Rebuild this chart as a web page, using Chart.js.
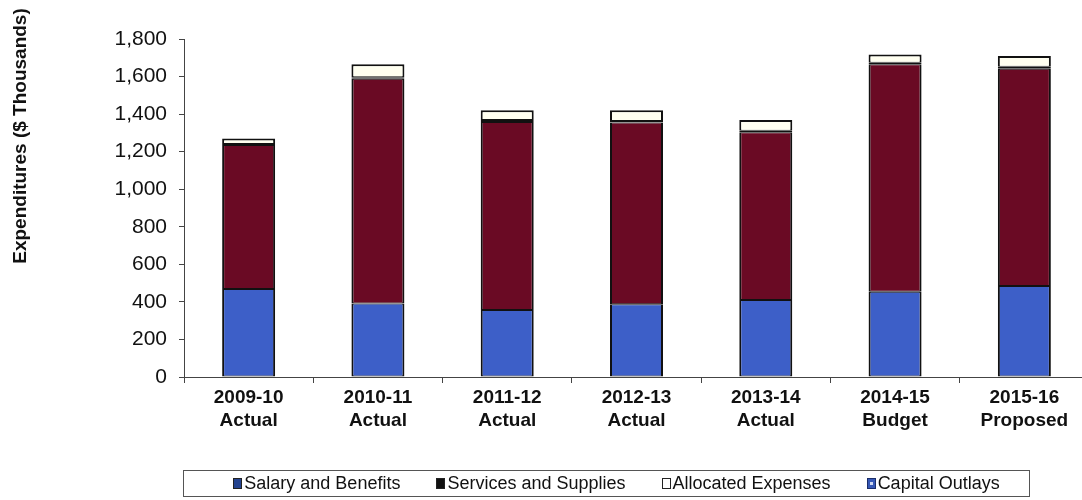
<!DOCTYPE html>
<html>
<head>
<meta charset="utf-8">
<script src="https://cdn.jsdelivr.net/npm/chart.js@4.4.1/dist/chart.umd.min.js"></script>
<style>
  html, body { margin: 0; padding: 0; background: #fff; overflow: hidden; width: 1082px; height: 500px; }
  #wrap { position: absolute; left: 0; top: 0; width: 1095px; height: 500px; }
  #legend { position: absolute; left: 183px; top: 470px; width: 847px; height: 27px; border: 1px solid #555;
    display: flex; align-items: center; justify-content: center; gap: 36px; padding-left: 20px;
    font-family: "Liberation Sans", Arial, sans-serif; font-size: 18px; color: #111; box-sizing: border-box; }
  .li { display: flex; align-items: center; white-space: nowrap; }
  .sw { width: 9px; height: 11px; margin-right: 2px; box-sizing: border-box; border: 1px solid #222; }
</style>
</head>
<body>
<div id="wrap"><canvas id="c" width="1095" height="500"></canvas></div>
<div id="legend"></div>
<script>
const categories = [["2009-10","Actual"],["2010-11","Actual"],["2011-12","Actual"],["2012-13","Actual"],["2013-14","Actual"],["2014-15","Budget"],["2015-16","Proposed"]];
const salaryBenefits = [468, 392, 357, 387, 410, 454, 485];
const servicesSupplies = [768, 1196, 1001, 968, 894, 1212, 1157];
const capitalOutlays = [5, 8, 10, 8, 8, 8, 10];
const allocatedExpenses = [29, 69, 52, 57, 56, 44, 57];
const seriesNames = ["Salary and Benefits", "Services and Supplies", "Allocated Expenses", "Capital Outlays"];
const yTicks = [0, 200, 400, 600, 800, 1000, 1200, 1400, 1600, 1800];

const legendColors = ["#24438f", "#111111", "#ffffff", "#3557b5"];
const lg = document.getElementById('legend');
seriesNames.forEach((n, i) => {
  const d = document.createElement('div'); d.className = 'li';
  const s = document.createElement('span'); s.className = 'sw'; s.style.background = legendColors[i];
  if (i === 3) { s.style.border = '1px solid #1a2d6a'; s.style.backgroundImage = 'linear-gradient(#cfd8f0,#cfd8f0)'; s.style.backgroundSize = '3px 3px'; s.style.backgroundRepeat = 'no-repeat'; s.style.backgroundPosition = 'center'; }
  const t = document.createElement('span'); t.textContent = n;
  d.appendChild(s); d.appendChild(t); lg.appendChild(d);
});

const yTitlePlugin = {
  id: 'yTitle',
  afterDraw(chart) {
    const ctx = chart.ctx;
    ctx.save();
    ctx.translate(21, 136);
    ctx.rotate(-Math.PI / 2);
    ctx.font = 'bold 19px "Liberation Sans", Arial, sans-serif';
    ctx.fillStyle = '#111';
    ctx.textAlign = 'center';
    ctx.textBaseline = 'middle';
    ctx.fillText('Expenditures ($ Thousands)', 0, 0);
    ctx.restore();
  }
};

const common = { borderColor: '#111', borderWidth: { top: 1, bottom: 1, left: 2, right: 2 }, borderSkipped: false, inflateAmount: 0, barPercentage: 0.41, categoryPercentage: 1.0 };

new Chart(document.getElementById('c'), {
  type: 'bar',
  data: {
    labels: categories,
    datasets: [
      Object.assign({ label: seriesNames[0], data: salaryBenefits, backgroundColor: '#3d5fc8' }, common),
      Object.assign({ label: seriesNames[1], data: servicesSupplies, backgroundColor: '#6a0a24' }, common),
      Object.assign({ label: seriesNames[3], data: capitalOutlays, backgroundColor: '#2b3f7a' }, common),
      Object.assign({ label: seriesNames[2], data: allocatedExpenses, backgroundColor: '#fffff0' }, common,
        { borderWidth: { top: 2, bottom: 1, left: 2, right: 2 } })
    ]
  },
  options: {
    responsive: false,
    animation: false,
    layout: { padding: { left: 0, top: 39, right: 6, bottom: 0 } },
    plugins: { legend: { display: false }, tooltip: { enabled: false } },
    scales: {
      x: {
        stacked: true,
        grid: { display: true, offset: true, drawOnChartArea: false, drawTicks: true, tickLength: 6, color: '#444' },
        border: { display: true, color: '#444', width: 1 },
        ticks: { color: '#111', padding: 4, maxRotation: 0, autoSkip: false,
          font: { family: '"Liberation Sans", Arial, sans-serif', size: 19, weight: 'bold', lineHeight: 1.17 } },
        afterFit(s) { s.height = 123; }
      },
      y: {
        stacked: true,
        min: 0, max: 1800,
        afterBuildTicks(s) { s.ticks = yTicks.map(v => ({ value: v })); },
        grid: { display: true, drawOnChartArea: false, drawTicks: true, tickLength: 5, color: '#444' },
        border: { display: true, color: '#444', width: 1 },
        ticks: { color: '#111', padding: 12,
          callback: v => v.toLocaleString('en-US'),
          font: { family: '"Liberation Sans", Arial, sans-serif', size: 21 } },
        afterFit(s) { s.width = 184; }
      }
    }
  },
  plugins: [yTitlePlugin]
});
</script>
</body>
</html>
